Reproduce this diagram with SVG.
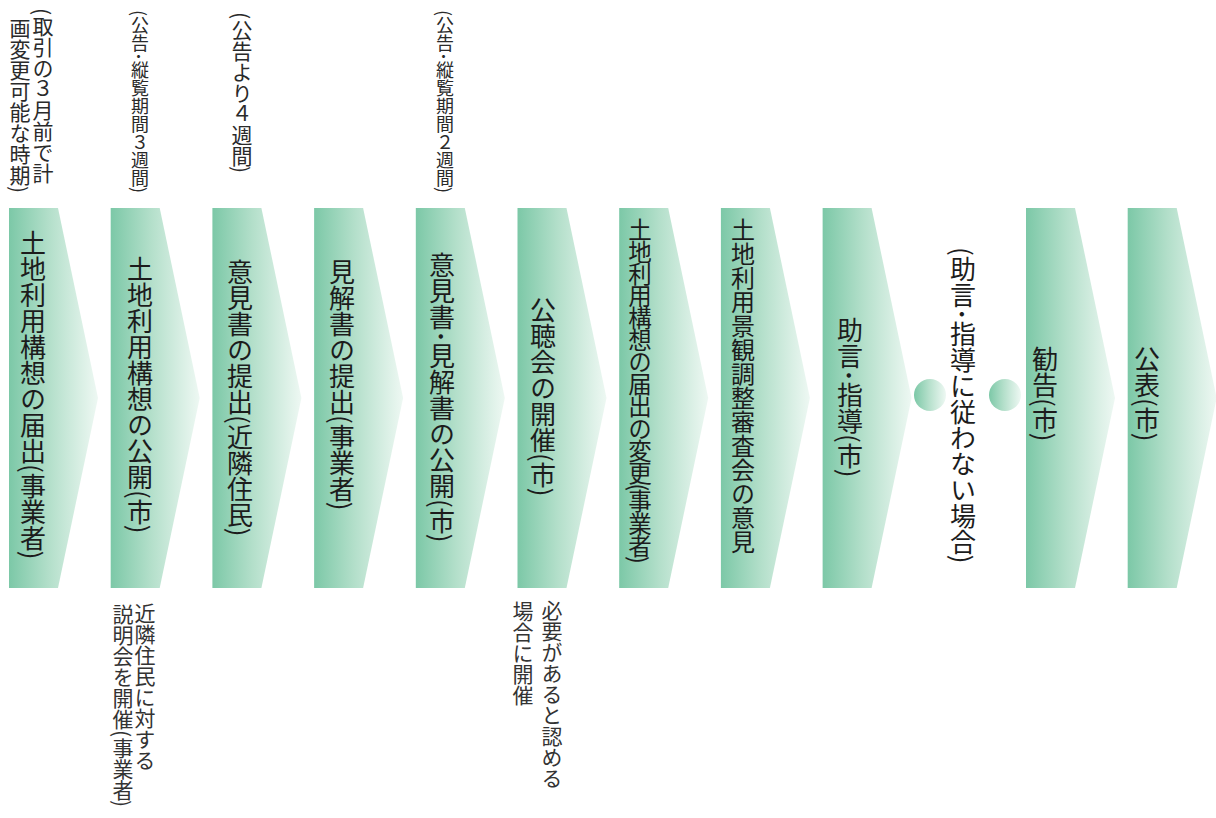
<svg xmlns="http://www.w3.org/2000/svg" width="1216" height="818" viewBox="0 0 1216 818">
<defs>
<linearGradient id="g" x1="0" y1="0" x2="1" y2="0">
<stop offset="0" stop-color="#7cc8a7"/>
<stop offset="0.45" stop-color="#b3dfca"/>
<stop offset="1" stop-color="#eef8f3"/>
</linearGradient>
<path id="chev" d="M0,208 H49 L89,398 L49,588 H0 Z"/>
<style>
text{font-family:"Noto Sans CJK JP","Noto Sans CJK SC",sans-serif;writing-mode:vertical-rl;fill:#1c1c1c}
.m{font-size:26px}
.a{font-size:21px;fill:#2a2a2a}
.s{font-size:18px;fill:#2a2a2a}
.b{font-size:21px;fill:#333}
</style>
</defs>
<rect width="1216" height="818" fill="#fff"/>
<g id="notes">
<text class="a"><tspan x="43" y="8">(取引の３月前で計</tspan><tspan x="20" y="18">画変更可能な時期)</tspan></text>
<text class="s" x="140" y="10">(公告･縦覧期間３週間)</text>
<text class="a" x="242" y="12">(公告より４週間)</text>
<text class="s" x="445" y="10">(公告･縦覧期間２週間)</text>
<text class="b"><tspan x="145" y="603">近隣住民に対する</tspan><tspan x="123" y="604">説明会を開催(事業者)</tspan></text>
<text class="b"><tspan x="552" y="600">必要があると認める</tspan><tspan x="523" y="601">場合に開催</tspan></text>
</g>
<g id="n1"><use href="#chev" x="9" fill="url(#g)"/><text class="m" x="33" y="230">土地利用構想の届出(事業者)</text></g>
<g id="n2"><use href="#chev" x="110.7" fill="url(#g)"/><text class="m" x="140" y="256">土地利用構想の公開(市)</text></g>
<g id="n3"><use href="#chev" x="212.4" fill="url(#g)"/><text class="m" x="240" y="259">意見書の提出(近隣住民)</text></g>
<g id="n4"><use href="#chev" x="314.1" fill="url(#g)"/><text class="m" x="342" y="259">見解書の提出(事業者)</text></g>
<g id="n5"><use href="#chev" x="415.8" fill="url(#g)"/><text class="m" x="442" y="252">意見書･見解書の公開(市)</text></g>
<g id="n6"><use href="#chev" x="517.5" fill="url(#g)"/><text class="m" x="543" y="297">公聴会の開催(市)</text></g>
<g id="n7"><use href="#chev" x="619.2" fill="url(#g)"/><text class="m" x="640" y="218" style="font-size:23.5px;letter-spacing:-1.4px">土地利用構想の届出の変更(事業者)</text></g>
<g id="n8"><use href="#chev" x="720.9" fill="url(#g)"/><text class="m" x="743" y="218" style="font-size:24px">土地利用景観調整審査会の意見</text></g>
<g id="n9"><use href="#chev" x="822.6" fill="url(#g)"/><text class="m" x="850" y="317">助言･指導(市)</text></g>
<g id="n10"><use href="#chev" x="1026" fill="url(#g)"/><text class="m" x="1045" y="346">勧告(市)</text></g>
<g id="n11"><use href="#chev" x="1127.7" fill="url(#g)"/><text class="m" x="1147" y="346">公表(市)</text></g>
<g id="connectors">
<circle cx="930" cy="395" r="16" fill="url(#g)"/>
<circle cx="1005" cy="395" r="16" fill="url(#g)"/>
</g>
<g id="n-cond"><text class="m" x="963" y="247">(助言･指導に従わない場合)</text></g>
</svg>
